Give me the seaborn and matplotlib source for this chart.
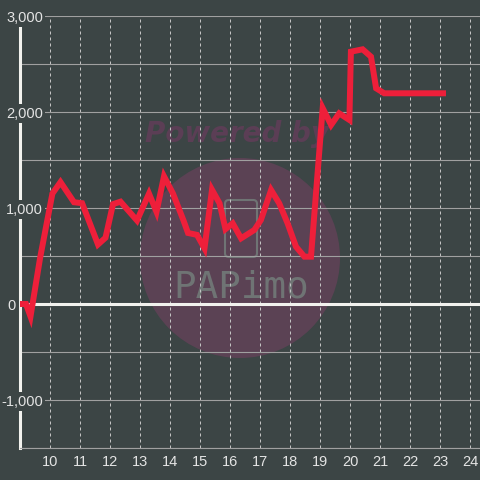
import matplotlib
matplotlib.use('Agg')
import matplotlib.pyplot as plt
from matplotlib.patches import Circle, FancyBboxPatch
import pandas as pd
import seaborn as sns

# hour of day vs. running balance
hours = [9.0, 9.2, 9.35, 9.67, 10.08, 10.35, 10.8, 11.07, 11.6, 11.85,
         12.1, 12.35, 12.9, 13.3, 13.55, 13.8, 14.1, 14.45, 14.6, 14.9,
         15.15, 15.4, 15.65, 15.85, 16.09, 16.37, 16.81, 17.03, 17.37, 17.64,
         17.92, 18.2, 18.48, 18.7, 19.09, 19.37, 19.64, 19.98, 20.03, 20.42,
         20.7, 20.87, 21.14, 23.1]
values = [0, 0, -130, 480, 1150, 1270, 1060, 1050, 620, 690,
          1040, 1066, 870, 1150, 960, 1330, 1150, 870, 740, 720,
          580, 1190, 1050, 780, 840, 684, 771, 875, 1187, 1049,
          840, 597, 493, 493, 2040, 1865, 1986, 1917, 2628, 2653,
          2576, 2247, 2195, 2195]
x_ticks = list(range(10, 25))
y_labels = [3000, 2000, 1000, 0, -1000]

BG = '#3c4545'
TXT = '#e4e4e4'

sns.set_style('dark', rc={'axes.facecolor': BG, 'figure.facecolor': BG,
                          'axes.axisbelow': True})
plt.rcParams['font.family'] = ['Liberation Sans', 'DejaVu Sans']

df = pd.DataFrame({'hour': hours, 'value': values})

fig = plt.figure(figsize=(4.8, 4.8), dpi=100)
ax = fig.add_axes([20 / 480, 32 / 480, 460 / 480, 432 / 480])

# watermark
ax.add_patch(Circle((240 / 480, 1 - 258 / 480), 100 / 480, transform=fig.transFigure,
                    color='#5b4254', zorder=0.2, lw=0))
ax.text(237 / 480, 1 - 134 / 480, 'Powered by', transform=fig.transFigure,
        ha='center', va='center', fontsize=20, fontweight='bold', fontstyle='italic',
        color='#5b3e55', family='DejaVu Sans', zorder=0.3)
ax.add_patch(FancyBboxPatch((225 / 480, 1 - 257 / 480), 32 / 480, 57 / 480,
                            boxstyle='round,pad=0,rounding_size=0.008',
                            transform=fig.transFigure, fc='none', ec='#6f7474',
                            lw=1.5, zorder=0.3))
ax.text(241 / 480, 1 - 288 / 480, 'PAPimo', transform=fig.transFigure, ha='center',
        va='center', fontsize=27, family='DejaVu Sans Mono', color='#6f7474', zorder=0.3)

sns.lineplot(data=df, x='hour', y='value', sort=False, ax=ax, color='#ee1f3a', lw=4.3,
             zorder=4)
ax.lines[-1].set_solid_capstyle('projecting')
ax.lines[-1].set_solid_joinstyle('miter')

ax.axhline(0, color='#f2f2ee', lw=2.2, zorder=1)

ax.set_xlim(9, 24 + 10 / 30)
ax.set_ylim(-1500, 3000)
ax.set_xticks(x_ticks)
ax.set_yticks(range(-1500, 3001, 500))
ax.xaxis.grid(True, color='#c4c4c4', lw=0.72, ls=(0, (3, 3)))
ax.yaxis.grid(True, color='#a0a0a0', lw=0.8)
ax.tick_params(axis='x', length=0, pad=5, labelsize=10.5, labelcolor=TXT)
ax.tick_params(axis='y', length=0, labelleft=False)
ax.set_xlabel('')
ax.set_ylabel('')

for s in ['top', 'right']:
    ax.spines[s].set_visible(False)
ax.spines['bottom'].set_color('#a0a0a0')
ax.spines['bottom'].set_linewidth(0.8)
ax.spines['left'].set_color('#f2f2ee')
ax.spines['left'].set_linewidth(2.2)
ax.spines['left'].set_bounds(-1500, 2917)

for v in y_labels:
    dx = -2.9 if v == 0 else 16.6
    ax.annotate(f'{v:,}', xy=(0, v), xycoords=('axes fraction', 'data'),
                xytext=(dx, 0), textcoords='offset points', ha='right',
                va='center_baseline', fontsize=10.5, color=TXT, zorder=3,
                annotation_clip=False,
                bbox=dict(boxstyle='square,pad=0.15', fc=BG, ec='none'))

fig.savefig('out.png', dpi=100, facecolor=BG)
